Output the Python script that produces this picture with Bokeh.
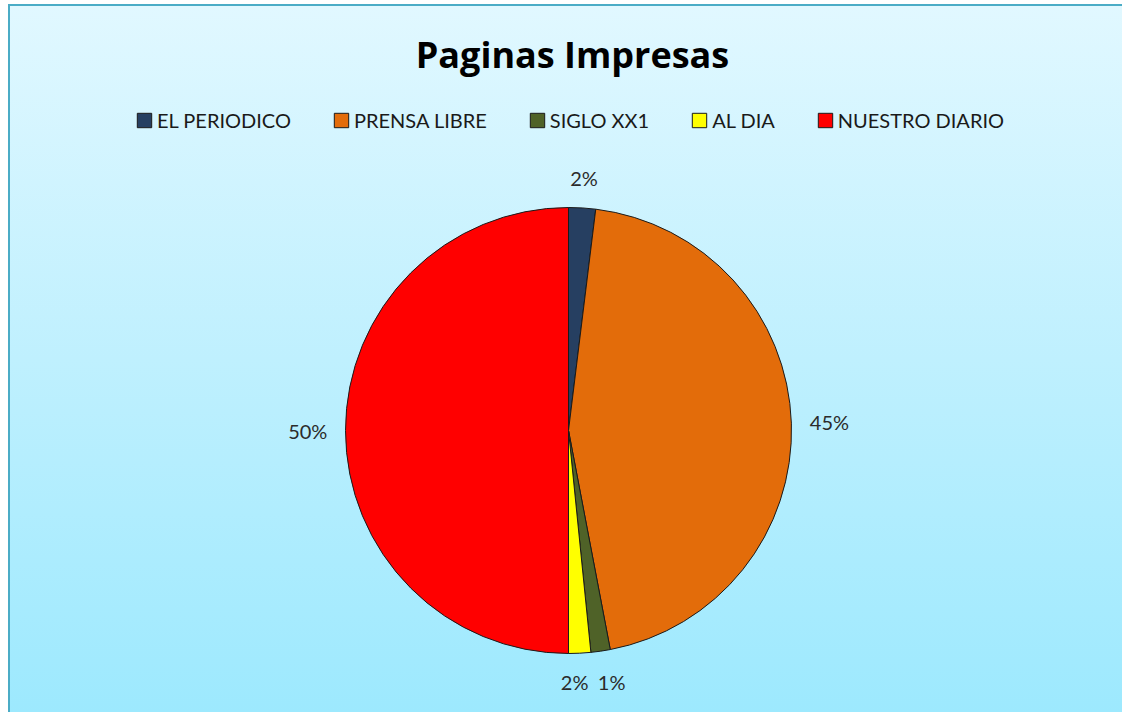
import numpy as np
from bokeh.plotting import figure
from bokeh.models import Range1d, ColumnDataSource, Label
from bokeh.embed import file_html
from bokeh.resources import INLINE
from bokeh.core.properties import value

# ---------------- data ----------------
title_text = "Paginas Impresas"
categories = ["EL PERIODICO", "PRENSA LIBRE", "SIGLO XX1", "AL DIA", "NUESTRO DIARIO"]
shares = [1.95, 45.05, 1.4, 1.6, 50.0]
colors = ["#263f61", "#e36c0a", "#4f6228", "#ffff00", "#ff0000"]

# ---------------- layout (page pixels) ----------------
W, H = 1114, 708          # figure (content) size
BORDER = 2
LEFT, TOP = 8 + BORDER, 4 + BORDER   # page position of the drawing area
BOTTOM = TOP + H


def dy(page_y):
    """data y for a page y (1 data unit == 1 px)."""
    return BOTTOM - page_y


FONT = "Lato"
cx, cy, r = 568, dy(430), 223

p = figure(width=W, height=H, output_backend="svg", toolbar_location=None, tools="",
           x_axis_type=None, y_axis_type=None,
           x_range=Range1d(LEFT, LEFT + W), y_range=Range1d(0, H),
           min_border=0, min_border_left=0, min_border_right=0,
           min_border_top=0, min_border_bottom=0)
p.outline_line_color = None
p.border_fill_color = None
p.background_fill_color = None
p.styles = {
    "position": "fixed",
    "left": f"{LEFT - BORDER}px",
    "top": f"{TOP - BORDER}px",
    "border-left": f"{BORDER}px solid #4bacc6",
    "border-top": f"{BORDER}px solid #4bacc6",
    "background": "linear-gradient(180deg, #e1f8ff 0%, #bff0fe 50%, #9de9fe 100%)",
}

# ---------------- pie ----------------
vals = np.array(shares, dtype=float)
frac = vals / vals.sum()
cum = np.cumsum(frac)
prev = np.concatenate([[0.0], cum[:-1]])
start = np.pi / 2 - 2 * np.pi * prev
end = np.pi / 2 - 2 * np.pi * cum

src = ColumnDataSource(dict(cat=categories, start=start, end=end, color=colors))
p.wedge(x=cx, y=cy, radius=r, start_angle="start", end_angle="end", direction="clock",
        fill_color="color", line_color="#1a1a1a", line_width=1, source=src,
        legend_field="cat")

# ---------------- percentage labels ----------------
pct_text = [f"{round(v / vals.sum() * 100):.0f}%" for v in vals]
mid = (start + end) / 2
ux, uy = np.cos(mid), np.sin(mid)
tw = np.array([len(t) * 12.5 for t in pct_text])
th = 20.0
gap = 19.0
dist = r + gap + np.abs(ux) * tw / 2 + np.abs(uy) * th / 2
lx = cx + dist * ux
ly = cy + dist * uy
# spread neighbouring labels that would collide
for i in range(len(lx) - 1):
    j = i + 1
    if abs(ly[i] - ly[j]) < th and abs(lx[i] - lx[j]) < (tw[i] + tw[j]) / 2 + 12:
        need = (tw[i] + tw[j]) / 2 + 12
        m = (lx[i] + lx[j]) / 2
        sgn = 1 if lx[i] > lx[j] else -1
        lx[i] = m + sgn * need / 2
        lx[j] = m - sgn * need / 2
        yy = (ly[i] + ly[j]) / 2
        ly[i] = ly[j] = yy

lsrc = ColumnDataSource(dict(x=lx, y=ly, t=pct_text))
p.text(x="x", y="y", text="t", source=lsrc, text_align="center", text_baseline="middle",
       text_font=value(FONT), text_font_size="20px", text_color="#2b2b2b")

# ---------------- title ----------------
p.add_layout(Label(x=572, y=dy(54), text=title_text, text_align="center",
                   text_baseline="middle", text_font="Open Sans", text_font_size="36px",
                   text_font_style="bold", text_color="#000000"))

# ---------------- legend ----------------
lg = p.legend[0]
lg.location = (125, BOTTOM - 132)   # bottom-left corner of the legend box
lg.orientation = "horizontal"
lg.margin = 0
lg.padding = 0
lg.spacing = 41
lg.glyph_width = 18
lg.glyph_height = 18
lg.label_standoff = 4
lg.label_height = 18
lg.label_text_font = FONT
lg.label_text_font_size = "20px"
lg.label_text_color = "#1a1a1a"
lg.label_text_baseline = "middle"
lg.background_fill_alpha = 0
lg.border_line_alpha = 0

open("out.html", "w").write(file_html(p, INLINE))
